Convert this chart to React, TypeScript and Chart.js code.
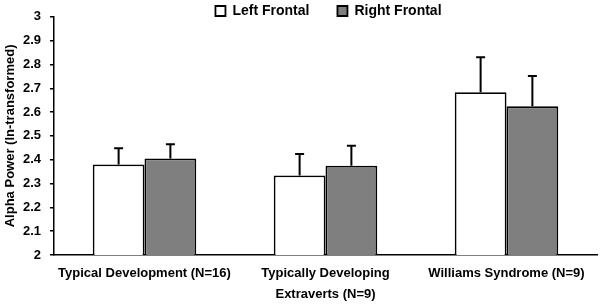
import React, { useEffect, useRef } from "react";
import { Chart, registerables } from "chart.js";

Chart.register(...registerables);

const categories: (string | string[])[] = [
  "Typical Development (N=16)",
  ["Typically Developing", "Extraverts (N=9)"],
  "Williams Syndrome (N=9)",
];
const seriesNames = ["Left Frontal", "Right Frontal"];
const leftFrontal = [2.38, 2.334, 2.683];
const rightFrontal = [2.405, 2.375, 2.624];
const leftErr = [0.068, 0.09, 0.147];
const rightErr = [0.06, 0.084, 0.127];
const yMin = 2;
const yMax = 3;
const yStep = 0.1;
const yTitle = "Alpha Power (ln-transformed)";

const FONT = "'Liberation Sans', Arial, sans-serif";

const errorBarPlugin = {
  id: "errorBars",
  afterDatasetsDraw(chart: any) {
    const ctx = chart.ctx;
    const yScale = chart.scales.y;
    const errs = [leftErr, rightErr];
    chart.data.datasets.forEach((ds: any, i: number) => {
      const meta = chart.getDatasetMeta(i);
      meta.data.forEach((bar: any, j: number) => {
        const v = ds.data[j] as number;
        const top = yScale.getPixelForValue(v + errs[i][j]);
        ctx.save();
        ctx.strokeStyle = "#000";
        ctx.lineWidth = 2;
        ctx.beginPath();
        ctx.moveTo(bar.x, bar.y);
        ctx.lineTo(bar.x, top);
        ctx.moveTo(bar.x - 4.5, top);
        ctx.lineTo(bar.x + 4.5, top);
        ctx.stroke();
        ctx.restore();
      });
    });
  },
};

const legendPlacePlugin = {
  id: "legendPlace",
  beforeInit(chart: any) {
    const legend = chart.legend;
    if (legend) {
      const origFit = legend.fit;
      legend.fit = function () {
        origFit.call(this);
        this.height = 0;
      };
    }
  },
  afterLayout(chart: any) {
    const legend = chart.legend;
    if (legend) {
      const pad = legend.options.labels.padding;
      legend.top = 4 - pad;
      legend.bottom = 40;
      legend.height = legend.bottom - legend.top;
      legend.left += 3;
      legend.right += 3;
    }
  },
};

export default function App() {
  const ref = useRef<HTMLCanvasElement | null>(null);
  useEffect(() => {
    if (!ref.current) return;
    const chart = new Chart(ref.current, {
      type: "bar",
      data: {
        labels: categories,
        datasets: [
          {
            label: seriesNames[0],
            data: leftFrontal,
            backgroundColor: "#ffffff",
            borderColor: "#000000",
            borderWidth: 1.8,
            borderSkipped: false,
          },
          {
            label: seriesNames[1],
            data: rightFrontal,
            backgroundColor: "#7f7f7f",
            borderColor: "#000000",
            borderWidth: 1.8,
            borderSkipped: false,
          },
        ],
      },
      options: {
        responsive: false,
        animation: false,
        devicePixelRatio: 1,
        layout: { padding: { top: 10, right: 3, bottom: 0, left: 0 } },
        datasets: {
          bar: { barPercentage: 1, categoryPercentage: 0.572 },
        },
        plugins: {
          tooltip: { enabled: false },
          legend: {
            display: true,
            position: "top",
            fullSize: false,
            labels: {
              boxWidth: 10,
              boxHeight: 10,
              padding: 28,
              color: "#000",
              font: { family: FONT, size: 14, weight: "bold" },
            },
          },
        },
        scales: {
          x: {
            grid: { display: false, drawTicks: false },
            border: { display: true, color: "#000", width: 1.5 },
            ticks: {
              color: "#000",
              padding: 8,
              maxRotation: 0,
              autoSkip: false,
              font: { family: FONT, size: 13, weight: "bold", lineHeight: 1.6 },
            },
            afterFit(scale: any) {
              scale.height = 49;
            },
          },
          y: {
            min: yMin,
            max: yMax,
            grid: {
              drawOnChartArea: false,
              drawTicks: true,
              tickLength: 4,
              color: "#000",
              lineWidth: 1.5,
            },
            border: { display: true, color: "#000", width: 1.5 },
            ticks: {
              stepSize: yStep,
              color: "#000",
              padding: 9,
              font: { family: FONT, size: 13, weight: "bold" },
              callback: (v: any) => String(Math.round(Number(v) * 10) / 10),
            },
            title: {
              display: true,
              text: yTitle,
              color: "#000",
              padding: { top: 3, bottom: 0 },
              font: { family: FONT, size: 13, weight: "bold", lineHeight: 1.2 },
            },
            afterFit(scale: any) {
              scale.width = 54;
            },
          },
        },
      },
      plugins: [errorBarPlugin, legendPlacePlugin],
    } as any);
    return () => chart.destroy();
  }, []);
  return (
    <div style={{ position: "fixed", left: 0, top: 0, width: 600, height: 304, background: "#fff" }}>
      <canvas ref={ref} width={600} height={304} style={{ display: "block" }} />
    </div>
  );
}
